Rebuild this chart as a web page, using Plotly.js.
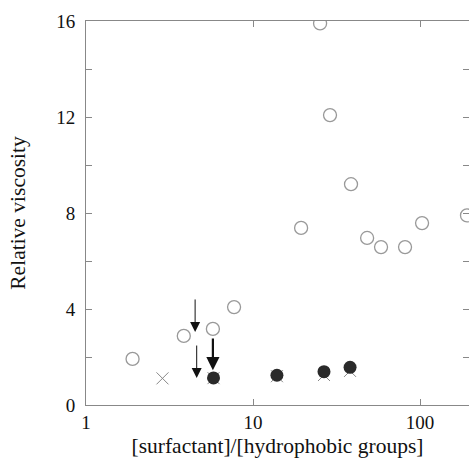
<!DOCTYPE html>
<html><head><meta charset="utf-8">
<script src="https://cdn.plot.ly/plotly-3.0.1.min.js"></script>
<style>html,body{margin:0;padding:0;background:#fff}</style>
</head><body><div id="chart" style="width:469px;height:464px"></div>
<script>
// open circles
var openX = [1.9, 3.85, 5.75, 7.7, 19.4, 25.2, 28.9, 38.6, 48.2, 58.4, 81.3, 102.8, 191];
var openY = [1.92, 2.88, 3.17, 4.08, 7.38, 15.9, 12.08, 9.2, 6.96, 6.58, 6.58, 7.58, 7.9];
// filled circles
var filledX = [5.8, 13.9, 26.6, 38.1];
var filledY = [1.13, 1.24, 1.39, 1.57];
// crosses
var crossX = [2.87, 5.8, 13.9, 26.6, 38.1];
var crossY = [1.11, 1.12, 1.2, 1.25, 1.42];
// arrows: x position, tip y, tail y, thickness
var arrowX = [4.5, 4.6, 5.75];
var arrowTipY = [3.04, 1.12, 1.45];
var arrowTailY = [4.46, 2.54, 2.83];
var arrowWidth = [1, 1, 2.2];

var traces = [
  {x: crossX, y: crossY, mode: 'markers', type: 'scatter',
   marker: {symbol: 'x-thin-open', size: 12, color: '#888', line: {color: '#888', width: 1}}},
  {x: openX, y: openY, mode: 'markers', type: 'scatter',
   marker: {symbol: 'circle-open', size: 13, color: '#999', line: {color: '#999', width: 1.3}}},
  {x: filledX, y: filledY, mode: 'markers', type: 'scatter',
   marker: {symbol: 'circle', size: 13, color: '#2a2a2a', line: {width: 0}}}
];

var annotations = arrowX.map(function (ax, i) {
  return {x: Math.log10(ax), y: arrowTipY[i], xref: 'x', yref: 'y',
    ax: Math.log10(ax), ay: arrowTailY[i], axref: 'x', ayref: 'y',
    showarrow: true, arrowhead: 2, arrowsize: arrowWidth[i] > 1 ? 1.2 : 2.0,
    arrowwidth: arrowWidth[i], arrowcolor: '#111', text: ''};
});

var fam = 'Liberation Serif, Times New Roman, serif';
var layout = {
  width: 469, height: 464,
  margin: {l: 86, r: 0, t: 21, b: 59},
  paper_bgcolor: '#fff', plot_bgcolor: '#fff',
  showlegend: false,
  font: {family: fam, color: '#111'},
  xaxis: {type: 'log', range: [0, 2.293], tickvals: [1, 10, 100], ticktext: ['1', '10', '100'],
    ticks: 'inside', ticklen: 6, tickcolor: '#888', showline: true, linecolor: '#888', linewidth: 1,
    mirror: 'ticks', showgrid: false, zeroline: false,
    tickfont: {family: fam, size: 19, color: '#111'},
    title: {text: '[surfactant]/[hydrophobic groups]', font: {family: fam, size: 21.5, color: '#111'}, standoff: 6}},
  yaxis: {range: [0, 16], tickvals: [0, 4, 8, 12, 16],
    ticks: 'inside', ticklen: 6, tickcolor: '#888', showline: true, linecolor: '#888', linewidth: 1,
    mirror: 'ticks', showgrid: false, zeroline: false, ticklabelstandoff: 6,
    minor: {tickvals: [2, 6, 10, 14], ticks: 'inside', ticklen: 6, tickcolor: '#888', showgrid: false},
    tickfont: {family: fam, size: 19, color: '#111'},
    title: {text: 'Relative viscosity', font: {family: fam, size: 21.5, color: '#111'}, standoff: 24}},
  annotations: annotations
};
Plotly.newPlot('chart', traces, layout, {displayModeBar: false, staticPlot: true});
</script></body></html>
